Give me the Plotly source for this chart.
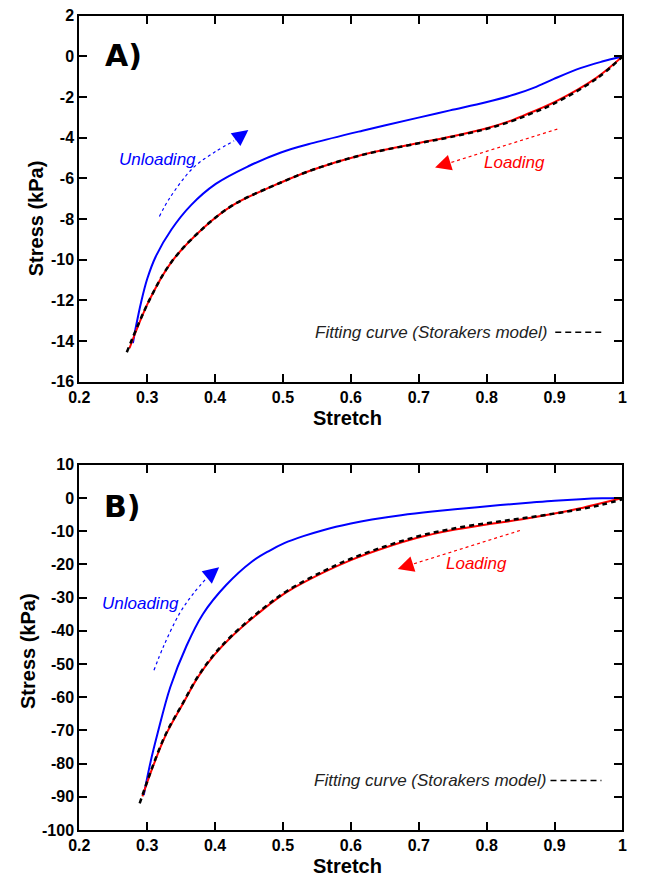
import plotly.graph_objects as go

# ---------------- Panel A data ----------------
a_load_x = [0.274, 0.303, 0.336, 0.384, 0.427, 0.497, 0.545, 0.617, 0.698, 0.746, 0.799, 0.837, 0.866,
            0.899, 0.9615, 1.0]
a_load_y = [-14.35, -12.0, -10.1, -8.4, -7.3, -6.2, -5.56, -4.83, -4.27, -3.95, -3.54, -3.14, -2.74,
            -2.26, -1.05, 0.0]

a_unload_x = [0.279, 0.284, 0.291, 0.300, 0.3125, 0.336, 0.365, 0.401, 0.449, 0.497, 0.545, 0.617, 0.698,
              0.746, 0.799, 0.842, 0.87, 0.899, 0.938, 0.97, 1.0]
a_unload_y = [-14.1, -13.2, -12.1, -10.95, -9.85, -8.5, -7.3, -6.27, -5.4, -4.72, -4.25, -3.65, -3.02,
              -2.65, -2.25, -1.86, -1.53, -1.1, -0.57, -0.25, 0.0]

a_fit_x = [0.270, 0.303, 0.336, 0.384, 0.427, 0.497, 0.545, 0.617, 0.698, 0.746, 0.799, 0.837, 0.866,
           0.899, 0.9615, 1.0]
a_fit_y = [-14.55, -12.0, -10.1, -8.4, -7.3, -6.2, -5.56, -4.84, -4.28, -3.97, -3.57, -3.18, -2.8,
           -2.32, -1.1, 0.0]

# ---------------- Panel B data ----------------
b_load_x = [0.293, 0.306, 0.327, 0.352, 0.375, 0.398, 0.423, 0.470, 0.506, 0.559, 0.60, 0.65, 0.698,
            0.746, 0.80, 0.85, 0.90, 0.938, 0.97, 1.0]
b_load_y = [-89.9, -82.3, -71.6, -62.2, -53.9, -47.5, -42.0, -33.7, -28.3, -22.5, -18.7, -15.0, -12.0,
            -9.8, -8.0, -6.5, -4.7, -3.1, -1.5, 0.0]

b_unload_x = [0.295, 0.305, 0.315, 0.334, 0.358, 0.382, 0.416, 0.454, 0.48, 0.502, 0.53, 0.559, 0.60,
              0.631, 0.674, 0.72, 0.77, 0.82, 0.866, 0.90, 0.938, 0.97, 1.0]
b_unload_y = [-89.5, -79.5, -71.2, -57.0, -44.5, -35.0, -26.3, -19.2, -15.9, -13.6, -11.5, -9.7, -7.7,
              -6.5, -5.2, -4.1, -3.1, -2.15, -1.35, -0.8, -0.35, -0.1, 0.0]

b_fit_x = [0.289, 0.306, 0.327, 0.352, 0.375, 0.398, 0.423, 0.470, 0.506, 0.559, 0.60, 0.65, 0.698,
           0.746, 0.80, 0.85, 0.90, 0.938, 0.97, 1.0]
b_fit_y = [-92.0, -82.0, -71.3, -62.0, -53.7, -47.3, -41.8, -33.4, -28.0, -22.1, -18.3, -14.6, -11.6,
           -9.4, -7.6, -6.2, -4.7, -3.4, -2.0, -0.4]

# ---------------- Ticks ----------------
x_tickvals = [0.2, 0.3, 0.4, 0.5, 0.6, 0.7, 0.8, 0.9, 1.0]
x_ticktext = ["0.2", "0.3", "0.4", "0.5", "0.6", "0.7", "0.8", "0.9", "1"]
a_y_tickvals = [-16, -14, -12, -10, -8, -6, -4, -2, 0, 2]
a_y_ticktext = ["-16", "-14", "-12", "-10", "-8", "-6", "-4", "-2", "0", "2"]
b_y_tickvals = [-100, -90, -80, -70, -60, -50, -40, -30, -20, -10, 0, 10]
b_y_ticktext = ["-100", "-90", "-80", "-70", "-60", "-50", "-40", "-30", "-20", "-10", "0", "10"]

# ---------------- Annotation geometry (data coords) ----------------
a_unl_arrow_x = [0.318, 0.334, 0.368, 0.401, 0.428]
a_unl_arrow_y = [-7.87, -6.92, -5.47, -4.67, -4.15]
a_unl_tip = (0.449, -3.62)
a_load_arrow_x = [0.904, 0.745]
a_load_arrow_y = [-3.57, -5.24]
a_load_tip = (0.724, -5.46)

b_unl_arrow_x = [0.310, 0.3245, 0.348, 0.368, 0.390]
b_unl_arrow_y = [-51.9, -44.5, -34.7, -28.8, -23.6]
b_unl_tip = (0.406, -20.9)
b_load_arrow_x = [0.849, 0.69]
b_load_arrow_y = [-9.8, -20.0]
b_load_tip = (0.669, -21.4)

BLUE = "#0000ff"
RED = "#ff0000"
FONT = "Liberation Sans, Arial, sans-serif"

fig = go.Figure()

def add_panel(xa, ya, lx, ly, ux, uy, fx, fy, ax_x, ax_y, ld_x, ld_y):
    fig.add_trace(go.Scatter(x=ux, y=uy, mode="lines",
                             line=dict(color=BLUE, width=2, shape="spline", smoothing=1.0),
                             xaxis=xa, yaxis=ya, showlegend=False))
    fig.add_trace(go.Scatter(x=lx, y=ly, mode="lines",
                             line=dict(color=RED, width=2, shape="spline", smoothing=1.0),
                             xaxis=xa, yaxis=ya, showlegend=False))
    fig.add_trace(go.Scatter(x=fx, y=fy, mode="lines",
                             line=dict(color="black", width=2.5, dash="5px,4px", shape="spline", smoothing=1.0),
                             xaxis=xa, yaxis=ya, showlegend=False))
    fig.add_trace(go.Scatter(x=ax_x, y=ax_y, mode="lines",
                             line=dict(color=BLUE, width=1.2, dash="3px,3px", shape="spline"),
                             xaxis=xa, yaxis=ya, showlegend=False))
    fig.add_trace(go.Scatter(x=ld_x, y=ld_y, mode="lines", line=dict(color=RED, width=1.2, dash="3px,3px"),
                             xaxis=xa, yaxis=ya, showlegend=False))

add_panel("x", "y", a_load_x, a_load_y, a_unload_x, a_unload_y, a_fit_x, a_fit_y,
          a_unl_arrow_x, a_unl_arrow_y, a_load_arrow_x, a_load_arrow_y)
add_panel("x2", "y2", b_load_x, b_load_y, b_unload_x, b_unload_y, b_fit_x, b_fit_y,
          b_unl_arrow_x, b_unl_arrow_y, b_load_arrow_x, b_load_arrow_y)

axis_common = dict(showline=True, linecolor="black", linewidth=2, mirror="ticks", ticks="inside",
                   ticklen=8, tickwidth=2, tickcolor="black", showgrid=False, zeroline=False,
                   tickfont=dict(family=FONT, size=16, color="black", weight="bold"))

xd = [70 / 646, 627 / 646]
fig.update_layout(
    width=646, height=888, margin=dict(l=0, r=0, t=0, b=0),
    plot_bgcolor="white", paper_bgcolor="white",
    xaxis=dict(domain=xd, range=[0.2, 1.0], tickvals=x_tickvals, ticktext=x_ticktext, anchor="y", **axis_common),
    yaxis=dict(domain=[1 - 381 / 888, 1 - 8 / 888], range=[-16, 2], tickvals=a_y_tickvals,
               ticktext=a_y_ticktext, anchor="x", **axis_common),
    xaxis2=dict(domain=xd, range=[0.2, 1.0], tickvals=x_tickvals, ticktext=x_ticktext, anchor="y2", **axis_common),
    yaxis2=dict(domain=[1 - 838 / 888, 1 - 465.7 / 888], range=[-100, 10], tickvals=b_y_tickvals,
                ticktext=b_y_ticktext, anchor="x2", **axis_common),
)

ann = []
def txt(x, y, text, xref, yref, size, color, family=FONT, italic=False, bold=False, xanchor="center",
        angle=0):
    ann.append(dict(x=x, y=y, xref=xref, yref=yref, text=text, showarrow=False, xanchor=xanchor,
                    yanchor="middle", textangle=angle,
                    font=dict(family=family, size=size, color=color,
                              style="italic" if italic else "normal",
                              weight="bold" if bold else "normal")))

def head(tip, base_x, base_y, xref, yref, color):
    ann.append(dict(x=tip[0], y=tip[1], ax=base_x, ay=base_y, xref=xref, yref=yref,
                    axref=xref, ayref=yref, text="", showarrow=True, arrowhead=2, arrowsize=3.2,
                    arrowwidth=1, arrowcolor=color))

# Panel A
txt(0.2647, 0.05, "A)", "x", "y", 30, "black", family="DejaVu Sans, sans-serif", bold=True)
txt(0.315, -5.07, "Unloading", "x", "y", 17, BLUE, italic=True)
txt(0.841, -5.22, "Loading", "x", "y", 17, RED, italic=True)
txt(0.8925, -13.57, "Fitting curve (Storakers model)", "x", "y", 17, "#222222", italic=True, xanchor="right")
head(a_unl_tip, a_unl_arrow_x[-1], a_unl_arrow_y[-1], "x", "y", BLUE)
head(a_load_tip, a_load_arrow_x[-1], a_load_arrow_y[-1], "x", "y", RED)

# Panel B
txt(0.263, -2.66, "B)", "x2", "y2", 30, "black", family="DejaVu Sans, sans-serif", bold=True)
txt(0.2905, -31.8, "Unloading", "x2", "y2", 17, BLUE, italic=True)
txt(0.785, -19.7, "Loading", "x2", "y2", 17, RED, italic=True)
txt(0.8897, -85.1, "Fitting curve (Storakers model)", "x2", "y2", 17, "#222222", italic=True, xanchor="right")
head(b_unl_tip, b_unl_arrow_x[-1], b_unl_arrow_y[-1], "x2", "y2", BLUE)
head(b_load_tip, b_load_arrow_x[-1], b_load_arrow_y[-1], "x2", "y2", RED)

# Axis titles
txt(26 / 646, 1 - 214 / 888, "Stress (kPa)", "paper", "paper", 20, "black", bold=True, angle=-90)
txt(345 / 646, 1 - 418 / 888, "Stretch", "paper", "paper", 20, "black", bold=True)
txt(18 / 646, 1 - 656 / 888, "Stress (kPa)", "paper", "paper", 20, "black", bold=True, angle=-90)
txt(345 / 646, 1 - 875 / 888, "Stretch", "paper", "paper", 20, "black", bold=True)

fig.update_layout(annotations=ann)

# legend samples (dashed line next to the fitting-curve label)
fig.add_shape(type="line", x0=0.901, x1=0.9716, y0=-13.57, y1=-13.57, xref="x", yref="y",
              line=dict(color="black", width=1.5, dash="6px,4px"))
fig.add_shape(type="line", x0=0.894, x1=0.969, y0=-85.1, y1=-85.1, xref="x2", yref="y2",
              line=dict(color="black", width=1.5, dash="6px,4px"))

fig.write_html("out.html")
